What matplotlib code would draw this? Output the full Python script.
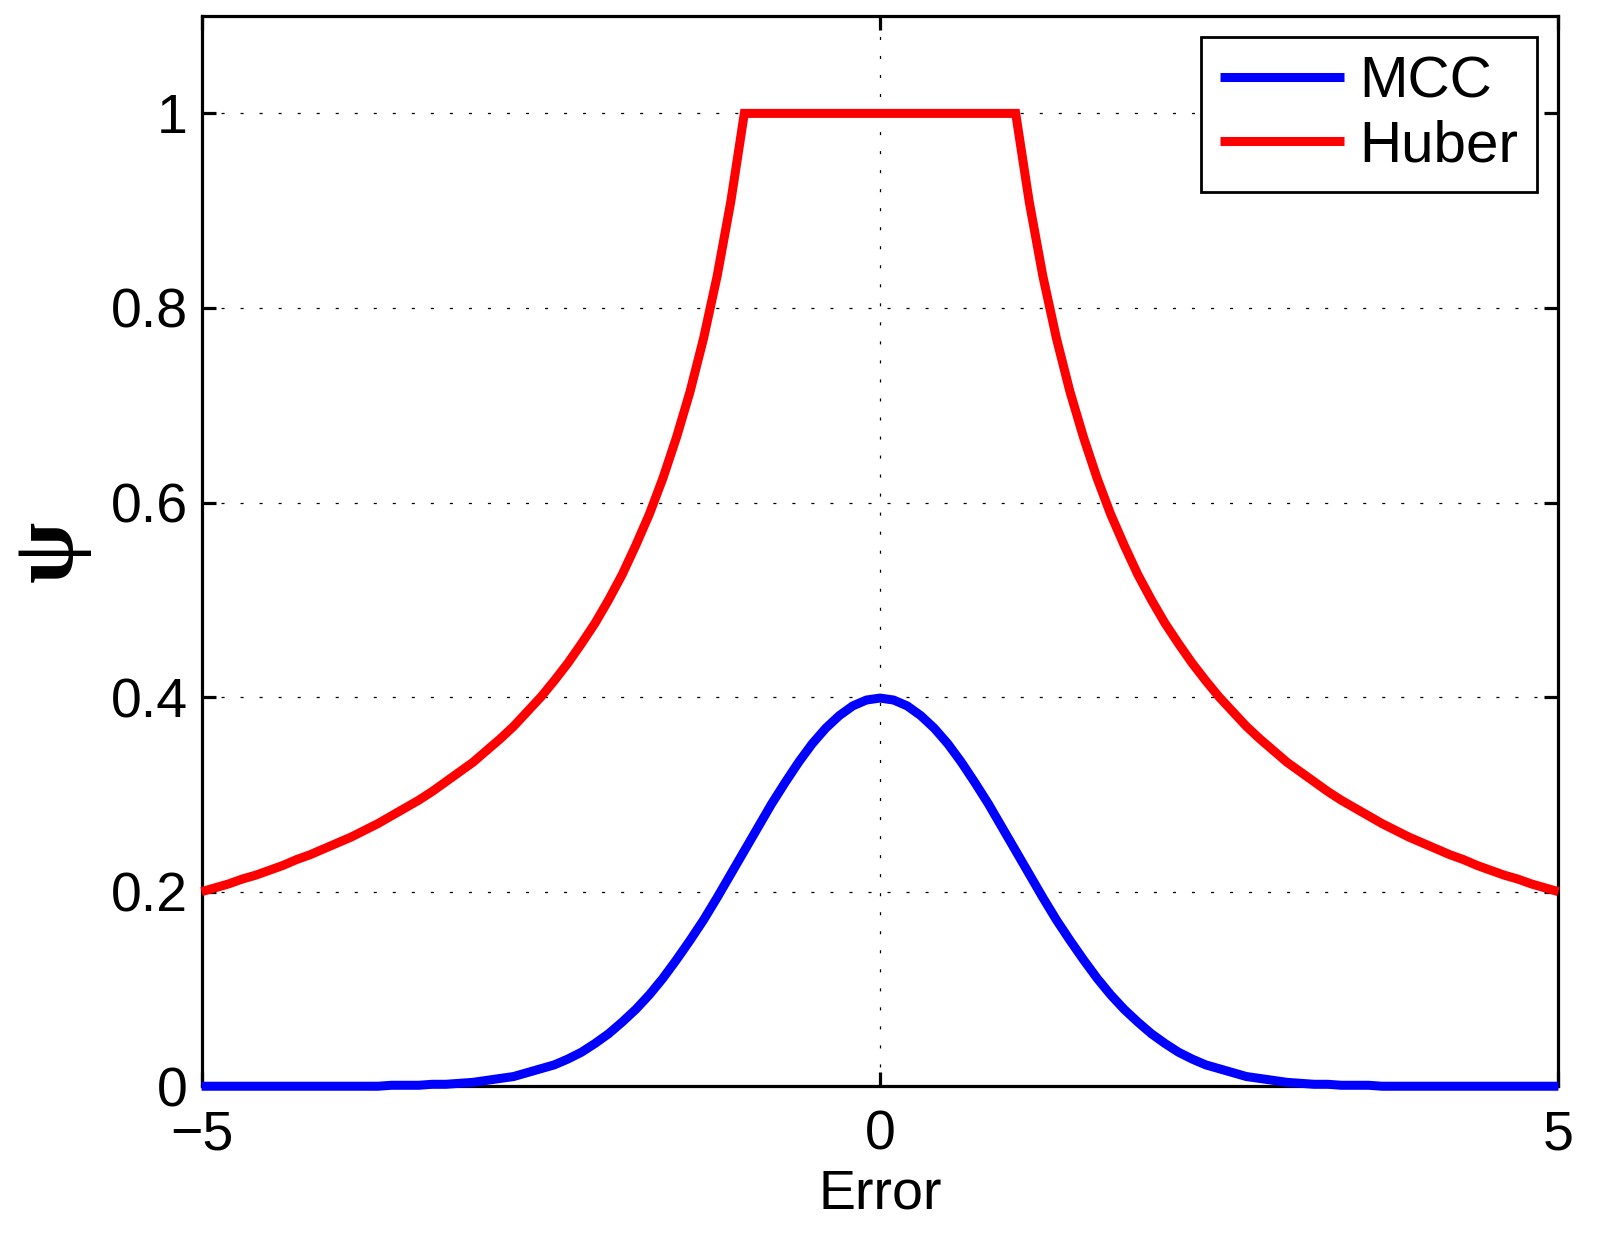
import matplotlib
matplotlib.use('Agg')
import matplotlib.pyplot as plt
import numpy as np

# values, right half (the curves are symmetric about 0)
err_half = [0.0, 0.1, 0.2, 0.3, 0.4, 0.5, 0.6, 0.7, 0.8, 0.9,
            1.0, 1.1, 1.2, 1.3, 1.4, 1.5, 1.6, 1.7, 1.8, 1.9,
            2.0, 2.1, 2.2, 2.3, 2.4, 2.5, 2.6, 2.7, 2.8, 2.9,
            3.0, 3.1, 3.2, 3.3, 3.4, 3.5, 3.6, 3.7, 3.8, 3.9,
            4.0, 4.1, 4.2, 4.3, 4.4, 4.5, 4.6, 4.7, 4.8, 4.9, 5.0]
mcc_half = [0.399, 0.397, 0.391, 0.381, 0.368, 0.352, 0.333, 0.312, 0.290, 0.266,
            0.242, 0.218, 0.194, 0.171, 0.150, 0.130, 0.111, 0.094, 0.079, 0.066,
            0.054, 0.044, 0.035, 0.028, 0.022, 0.018, 0.014, 0.010, 0.008, 0.006,
            0.004, 0.003, 0.002, 0.002, 0.001, 0.001, 0.001, 0.000, 0.000, 0.000,
            0.000, 0.000, 0.000, 0.000, 0.000, 0.000, 0.000, 0.000, 0.000, 0.000, 0.000]
huber_half = [1.0, 1.0, 1.0, 1.0, 1.0, 1.0, 1.0, 1.0, 1.0, 1.0,
              1.0, 0.909, 0.833, 0.769, 0.714, 0.667, 0.625, 0.588, 0.556, 0.526,
              0.500, 0.476, 0.455, 0.435, 0.417, 0.400, 0.385, 0.370, 0.357, 0.345,
              0.333, 0.323, 0.313, 0.303, 0.294, 0.286, 0.278, 0.270, 0.263, 0.256,
              0.250, 0.244, 0.238, 0.233, 0.227, 0.222, 0.217, 0.213, 0.208, 0.204, 0.200]

x_ticks = [-5, 0, 5]
x_tick_labels = ['\u22125', '0', '5']
y_ticks = [0, 0.2, 0.4, 0.6, 0.8, 1.0]
y_tick_labels = ['0', '0.2', '0.4', '0.6', '0.8', '1']

err = np.concatenate([-np.array(err_half[:0:-1]), err_half])
mcc = np.concatenate([mcc_half[:0:-1], mcc_half])
huber = np.concatenate([huber_half[:0:-1], huber_half])

plt.rcParams['font.family'] = ['Liberation Sans', 'DejaVu Sans']
plt.rcParams['lines.scale_dashes'] = False

fig = plt.figure(figsize=(16, 12.4), dpi=100)
ax = fig.add_axes([0.126, 0.124, 0.848, 0.863])

ax.plot(err, mcc, color=(0, 0, 1), lw=6.5, clip_on=False, solid_capstyle='butt',
        solid_joinstyle='round', label='MCC', zorder=3)
ax.plot(err, huber, color=(1, 0, 0), lw=6.5, clip_on=False, solid_capstyle='butt',
        solid_joinstyle='miter', label='Huber', zorder=3)

ax.set_xlim(-5, 5)
ax.set_ylim(0, 1.1)
ax.set_xticks(x_ticks)
ax.set_xticklabels(x_tick_labels)
ax.set_yticks(y_ticks)
ax.set_yticklabels(y_tick_labels)

ax.grid(True, color='black', linestyle=(0, (2.2, 11.5)), linewidth=0.9)
for s in ax.spines.values():
    s.set_linewidth(2.3)
ax.tick_params(direction='in', length=10, width=2.3, top=True, right=True,
               labelsize=40)
ax.tick_params(axis='x', pad=17)
ax.tick_params(axis='y', pad=10)

ax.set_xlabel('Error', fontsize=40, labelpad=5)
ax.set_ylabel('\u03c8', fontsize=64, family=['Liberation Serif', 'DejaVu Serif'],
              fontweight='bold', labelpad=14)

leg = ax.legend(loc='upper right', fontsize=42, handlelength=2.13,
                handletextpad=0.27, borderaxespad=0.36, borderpad=0.32,
                labelspacing=0.17, fancybox=False, framealpha=1)
leg.get_frame().set_edgecolor('black')
leg.get_frame().set_linewidth(2)

fig.savefig('out.png', dpi=100)
